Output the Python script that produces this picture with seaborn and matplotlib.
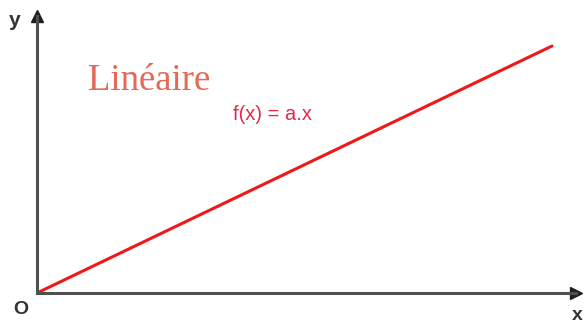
import matplotlib
matplotlib.use("Agg")
import matplotlib.pyplot as plt
import seaborn as sns
import pandas as pd

# Linear function f(x) = a.x, drawn from the origin
x_values = [0, 10]
y_values = [0, 4.8]
x_max = 10.466
y_max = 5.383

title_text = "Linéaire"
formula_text = "f(x) = a.x"
axis_names = ["x", "y"]
origin_label = "O"

sns.set_theme(style="white")

W, H = 584, 324
fig = plt.figure(figsize=(W / 100, H / 100), dpi=100)
fig.patch.set_facecolor("white")

# axes box in pixel units: origin at (37, 293), arrow centres at x=576 / y=16
left, bottom, right, top = 37, 293, 576, 16
ax = fig.add_axes([left / W, 1 - bottom / H, (right - left) / W, (bottom - top) / H])
ax.set_facecolor("white")

df = pd.DataFrame({"x": x_values, "y": y_values})
sns.lineplot(data=df, x="x", y="y", ax=ax, color="#f01818", linewidth=2.2)

ax.set_xlim(0, x_max)
ax.set_ylim(0, y_max)
ax.set_xticks([])
ax.set_yticks([])
ax.set_xlabel("")
ax.set_ylabel("")

axis_color = "#505050"
for side in ["top", "right"]:
    ax.spines[side].set_visible(False)
for side in ["left", "bottom"]:
    ax.spines[side].set_color(axis_color)
    ax.spines[side].set_linewidth(2.2)

# arrowheads at the ends of both axes
ax.plot(1, 0, ">", color="#202020", markersize=8, transform=ax.transAxes, clip_on=False)
ax.plot(0, 1, "^", color="#202020", markersize=8, transform=ax.transAxes, clip_on=False)

def px(xp, yp):
    return xp / W, 1 - yp / H

label_font = dict(family=["Liberation Sans", "DejaVu Sans"], fontweight="bold", color="#333333")
fig.text(*px(15, 21), axis_names[1], fontsize=15, ha="center", va="center", **label_font)
fig.text(*px(577, 316), axis_names[0], fontsize=14, ha="center", va="center", **label_font)
fig.text(*px(21, 309), origin_label, fontsize=14, ha="center", va="center", **label_font)

fig.text(*px(88, 81), title_text, fontsize=26.5, ha="left", va="center",
         family=["Liberation Serif", "DejaVu Serif"], color="#e36a58")
fig.text(*px(233, 115), formula_text, fontsize=14.5, ha="left", va="center",
         family=["Liberation Sans Narrow", "Liberation Sans", "DejaVu Sans"], color="#e8264a")

fig.savefig("out.png", dpi=100, facecolor="white")
